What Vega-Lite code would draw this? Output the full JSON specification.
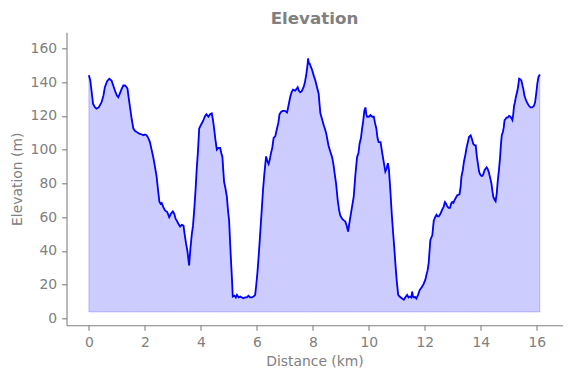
{
  "$schema": "https://vega.github.io/schema/vega-lite/v6.json",
  "width": 496,
  "height": 293,
  "autosize": {"type": "none"},
  "padding": {"left": 66.5, "top": 32.3, "right": 8, "bottom": 52.7},
  "background": "white",
  "config": {"view": {"stroke": null}, "font": "DejaVu Sans"},
  "title": {"text": "Elevation", "fontSize": 16.7, "fontWeight": "bold", "color": "#808080", "font": "DejaVu Sans", "anchor": "middle", "frame": "group", "baseline": "alphabetic", "offset": 8, "dy": 16.5},
  "data": {"values": [
    {"d":0,"e":144},{"d":0.05,"e":141},{"d":0.1,"e":134},{"d":0.15,"e":127},{"d":0.22,"e":125},{"d":0.27,"e":124.3},{"d":0.35,"e":125},{"d":0.45,"e":128},{"d":0.52,"e":132},{"d":0.57,"e":137},{"d":0.65,"e":140.5},{"d":0.73,"e":142},{"d":0.81,"e":141},{"d":0.87,"e":138},{"d":0.93,"e":135},{"d":1.0,"e":132},{"d":1.05,"e":131},{"d":1.1,"e":133},{"d":1.17,"e":136},{"d":1.23,"e":138},{"d":1.29,"e":138},{"d":1.35,"e":137},{"d":1.38,"e":136},{"d":1.42,"e":131},{"d":1.47,"e":125},{"d":1.53,"e":118},{"d":1.59,"e":112.5},{"d":1.65,"e":111},{"d":1.71,"e":110.5},{"d":1.8,"e":109.5},{"d":1.89,"e":109},{"d":1.95,"e":108.5},{"d":2.0,"e":109},{"d":2.06,"e":108.5},{"d":2.12,"e":107},{"d":2.18,"e":104.5},{"d":2.24,"e":100},{"d":2.3,"e":95.5},{"d":2.36,"e":90},{"d":2.42,"e":84},{"d":2.47,"e":76},{"d":2.52,"e":69},{"d":2.56,"e":68},{"d":2.6,"e":68.5},{"d":2.66,"e":66},{"d":2.72,"e":64},{"d":2.8,"e":63},{"d":2.87,"e":60},{"d":2.93,"e":62},{"d":3.0,"e":63.5},{"d":3.05,"e":62},{"d":3.1,"e":59},{"d":3.14,"e":58},{"d":3.2,"e":56},{"d":3.26,"e":54.5},{"d":3.32,"e":55.5},{"d":3.38,"e":55},{"d":3.42,"e":50},{"d":3.47,"e":44.5},{"d":3.52,"e":40},{"d":3.58,"e":31.5},{"d":3.63,"e":42},{"d":3.68,"e":50.5},{"d":3.72,"e":55},{"d":3.77,"e":66},{"d":3.81,"e":76},{"d":3.85,"e":88},{"d":3.9,"e":100},{"d":3.94,"e":112.5},{"d":3.98,"e":114},{"d":4.03,"e":115.5},{"d":4.08,"e":117},{"d":4.15,"e":120},{"d":4.2,"e":121},{"d":4.27,"e":119.5},{"d":4.33,"e":121},{"d":4.39,"e":121.5},{"d":4.43,"e":118},{"d":4.47,"e":113},{"d":4.52,"e":106},{"d":4.57,"e":100},{"d":4.62,"e":101},{"d":4.69,"e":101},{"d":4.73,"e":98},{"d":4.77,"e":95.5},{"d":4.8,"e":88},{"d":4.83,"e":81},{"d":4.88,"e":77},{"d":4.93,"e":72},{"d":4.97,"e":64},{"d":5.01,"e":58},{"d":5.04,"e":47},{"d":5.07,"e":36.5},{"d":5.11,"e":24},{"d":5.14,"e":13},{"d":5.2,"e":13.5},{"d":5.25,"e":12.5},{"d":5.29,"e":14},{"d":5.35,"e":12.5},{"d":5.41,"e":13},{"d":5.47,"e":12.5},{"d":5.52,"e":12},{"d":5.58,"e":12.5},{"d":5.64,"e":12.5},{"d":5.7,"e":13.5},{"d":5.76,"e":12.5},{"d":5.82,"e":12.5},{"d":5.88,"e":13},{"d":5.94,"e":14},{"d":5.98,"e":20},{"d":6.02,"e":27},{"d":6.07,"e":38},{"d":6.12,"e":50.5},{"d":6.17,"e":63},{"d":6.22,"e":76},{"d":6.27,"e":86},{"d":6.33,"e":96},{"d":6.38,"e":93},{"d":6.42,"e":91.5},{"d":6.46,"e":94},{"d":6.5,"e":97.5},{"d":6.55,"e":101},{"d":6.6,"e":107},{"d":6.66,"e":108},{"d":6.72,"e":112.5},{"d":6.77,"e":116},{"d":6.81,"e":121},{"d":6.87,"e":122.5},{"d":6.93,"e":123},{"d":7.0,"e":123},{"d":7.08,"e":122},{"d":7.13,"e":126},{"d":7.19,"e":131},{"d":7.24,"e":134},{"d":7.29,"e":135.5},{"d":7.37,"e":135},{"d":7.42,"e":136},{"d":7.46,"e":137},{"d":7.5,"e":135},{"d":7.55,"e":134},{"d":7.6,"e":134.5},{"d":7.67,"e":137},{"d":7.72,"e":140},{"d":7.77,"e":145},{"d":7.81,"e":150},{"d":7.83,"e":154},{"d":7.86,"e":151},{"d":7.89,"e":151},{"d":7.93,"e":149},{"d":7.97,"e":147.5},{"d":8.03,"e":144},{"d":8.09,"e":141},{"d":8.15,"e":137},{"d":8.21,"e":133},{"d":8.24,"e":127},{"d":8.27,"e":121.5},{"d":8.33,"e":118},{"d":8.39,"e":114.5},{"d":8.44,"e":112},{"d":8.48,"e":109.5},{"d":8.52,"e":106},{"d":8.56,"e":102.5},{"d":8.62,"e":99},{"d":8.69,"e":95.5},{"d":8.74,"e":91},{"d":8.78,"e":86},{"d":8.83,"e":80},{"d":8.89,"e":70},{"d":8.94,"e":64},{"d":8.98,"e":61},{"d":9.05,"e":59},{"d":9.12,"e":58},{"d":9.16,"e":57.5},{"d":9.21,"e":55},{"d":9.26,"e":51.5},{"d":9.31,"e":57},{"d":9.38,"e":64},{"d":9.42,"e":68},{"d":9.46,"e":72},{"d":9.52,"e":85},{"d":9.58,"e":95.5},{"d":9.63,"e":98},{"d":9.67,"e":103.5},{"d":9.72,"e":107},{"d":9.76,"e":112.5},{"d":9.8,"e":117},{"d":9.84,"e":123},{"d":9.88,"e":125},{"d":9.91,"e":121},{"d":9.94,"e":119.5},{"d":10.0,"e":119.5},{"d":10.06,"e":120.5},{"d":10.12,"e":119.5},{"d":10.18,"e":119.5},{"d":10.22,"e":116},{"d":10.27,"e":112.5},{"d":10.31,"e":107},{"d":10.35,"e":104.5},{"d":10.42,"e":104.5},{"d":10.48,"e":98},{"d":10.54,"e":92},{"d":10.59,"e":87},{"d":10.64,"e":89},{"d":10.68,"e":92},{"d":10.72,"e":88},{"d":10.77,"e":76},{"d":10.82,"e":62},{"d":10.87,"e":50.5},{"d":10.91,"e":42},{"d":10.95,"e":32.5},{"d":11.0,"e":22},{"d":11.05,"e":14},{"d":11.1,"e":13},{"d":11.18,"e":12},{"d":11.25,"e":11.2},{"d":11.3,"e":12.5},{"d":11.37,"e":14},{"d":11.42,"e":12.5},{"d":11.47,"e":13},{"d":11.52,"e":12.5},{"d":11.55,"e":16},{"d":11.58,"e":13},{"d":11.61,"e":12.5},{"d":11.65,"e":12.8},{"d":11.7,"e":11.8},{"d":11.76,"e":14},{"d":11.82,"e":17},{"d":11.89,"e":18.5},{"d":11.96,"e":20.5},{"d":12.02,"e":23},{"d":12.06,"e":26},{"d":12.1,"e":28.5},{"d":12.14,"e":33},{"d":12.17,"e":40},{"d":12.2,"e":46.5},{"d":12.27,"e":49.5},{"d":12.32,"e":58},{"d":12.37,"e":60},{"d":12.42,"e":61.5},{"d":12.46,"e":60.5},{"d":12.5,"e":60.5},{"d":12.56,"e":62},{"d":12.62,"e":64.5},{"d":12.67,"e":66},{"d":12.72,"e":69},{"d":12.76,"e":68},{"d":12.8,"e":66.5},{"d":12.85,"e":65.5},{"d":12.9,"e":65.5},{"d":12.94,"e":68},{"d":12.98,"e":69},{"d":13.02,"e":68.5},{"d":13.06,"e":70},{"d":13.11,"e":71.5},{"d":13.16,"e":73},{"d":13.24,"e":73.5},{"d":13.28,"e":78},{"d":13.31,"e":84},{"d":13.36,"e":88},{"d":13.4,"e":93},{"d":13.45,"e":97},{"d":13.49,"e":101},{"d":13.54,"e":104.5},{"d":13.58,"e":107.5},{"d":13.64,"e":108.5},{"d":13.69,"e":106},{"d":13.73,"e":103.5},{"d":13.78,"e":102.5},{"d":13.82,"e":102.5},{"d":13.86,"e":96},{"d":13.9,"e":91.5},{"d":13.94,"e":87},{"d":13.97,"e":85.5},{"d":14.02,"e":84.5},{"d":14.06,"e":84.5},{"d":14.1,"e":86},{"d":14.14,"e":88},{"d":14.21,"e":89.5},{"d":14.25,"e":88.5},{"d":14.29,"e":86.5},{"d":14.34,"e":83},{"d":14.38,"e":80},{"d":14.42,"e":75},{"d":14.45,"e":72},{"d":14.49,"e":70.5},{"d":14.53,"e":69.5},{"d":14.57,"e":74},{"d":14.61,"e":82},{"d":14.65,"e":88},{"d":14.69,"e":95.5},{"d":14.72,"e":103},{"d":14.75,"e":108.5},{"d":14.79,"e":110.5},{"d":14.82,"e":113},{"d":14.85,"e":117.5},{"d":14.88,"e":118},{"d":14.92,"e":119},{"d":14.96,"e":119},{"d":15.01,"e":120},{"d":15.06,"e":119.5},{"d":15.1,"e":118.5},{"d":15.13,"e":117.5},{"d":15.16,"e":121},{"d":15.19,"e":126},{"d":15.22,"e":128},{"d":15.25,"e":131},{"d":15.28,"e":133},{"d":15.31,"e":135},{"d":15.34,"e":138},{"d":15.37,"e":142},{"d":15.42,"e":141.5},{"d":15.45,"e":141},{"d":15.49,"e":138},{"d":15.52,"e":136},{"d":15.56,"e":132},{"d":15.6,"e":130},{"d":15.65,"e":128},{"d":15.72,"e":126},{"d":15.78,"e":125},{"d":15.84,"e":125},{"d":15.9,"e":126},{"d":15.94,"e":128},{"d":15.98,"e":133},{"d":16.02,"e":139},{"d":16.06,"e":143},{"d":16.11,"e":144.5}
  ]},
  "encoding": {
    "x": {"field": "d", "type": "quantitative",
      "scale": {"domain": [-0.8, 16.92], "nice": false, "zero": false},
      "axis": {"title": "Distance (km)", "values": [0,2,4,6,8,10,12,14,16], "grid": false,
        "domainColor": "#808080", "tickColor": "#808080", "labelColor": "#808080", "titleColor": "#808080",
        "labelFont": "DejaVu Sans", "titleFont": "DejaVu Sans", "labelFontSize": 13.9, "titleFontSize": 13.9, "titleFontWeight": "normal",
        "tickSize": 4.9, "tickWidth": 1.1, "domainWidth": 1.1, "labelPadding": 5.5, "titlePadding": 5,
        "labelFlush": false, "labelOverlap": false, "labelBound": false}},
    "y": {"field": "e", "type": "quantitative",
      "scale": {"domain": [-4.0, 169.5], "nice": false, "zero": false},
      "axis": {"title": "Elevation (m)", "values": [0,20,40,60,80,100,120,140,160], "grid": false,
        "domainColor": "#808080", "tickColor": "#808080", "labelColor": "#808080", "titleColor": "#808080",
        "labelFont": "DejaVu Sans", "titleFont": "DejaVu Sans", "labelFontSize": 13.9, "titleFontSize": 13.9, "titleFontWeight": "normal",
        "tickSize": 4.9, "tickWidth": 1.1, "domainWidth": 1.1, "labelPadding": 5, "titlePadding": 6,
        "labelFlush": false, "labelOverlap": false, "labelBound": false}}
  },
  "layer": [
    {"mark": {"type": "area", "fill": "#0000ff", "fillOpacity": 0.2, "stroke": "#0000ff", "strokeOpacity": 0.2, "strokeWidth": 1},
     "encoding": {"y2": {"datum": 3.9}}},
    {"mark": {"type": "line", "color": "#0000ff", "strokeWidth": 1.8}}
  ]
}
